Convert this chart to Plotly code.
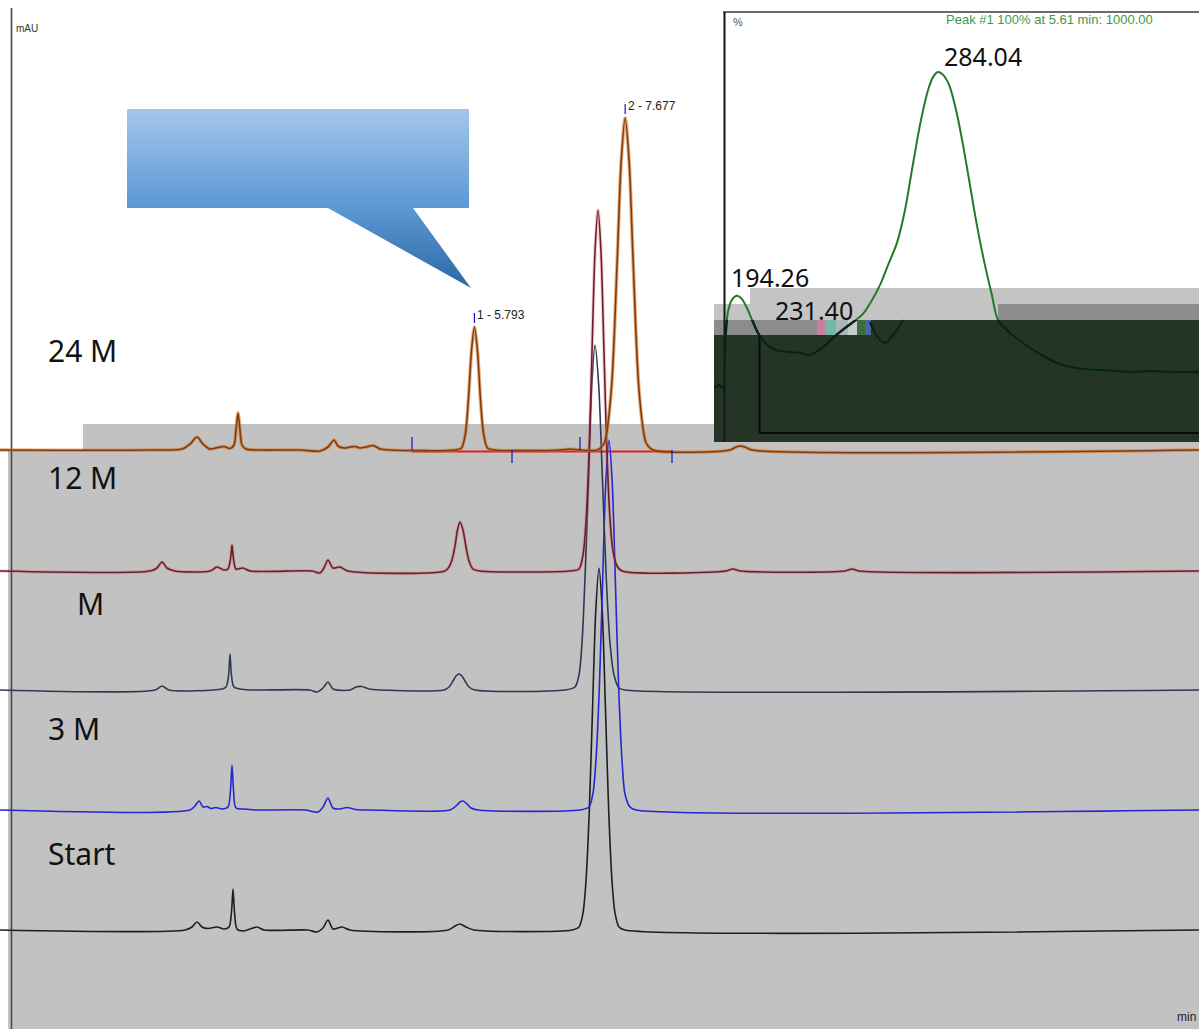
import plotly.graph_objects as go

W, H = 1199, 1029

# ---------------- chromatogram data ----------------
# time (min) and signal above each trace's own baseline (mAU); traces are stacked by OFFSETS
SAMPLE_NAMES = ["Start", "3 M", "M", "12 M", "24 M"]
OFFSETS = [99, 219, 339, 458, 579]

T_START = [-0.14, 2.175, 2.2625, 2.325, 2.3875, 2.4625, 2.575, 2.6625, 2.725, 2.7563, 2.775, 2.7938,
           2.825, 2.90, 2.9875, 3.075, 3.1625, 3.7125, 3.825, 3.90, 3.9625, 4.025, 4.1375, 4.2375,
           5.4625, 5.55, 5.6125, 5.6875, 5.7875, 7.0125, 7.10, 7.15, 7.1875, 7.2281, 7.2688, 7.3094,
           7.35, 7.3906, 7.4313, 7.4719, 7.5125, 7.55, 7.60, 7.675, 14.85]
H_START = [0, 0, 3, 8, 3, 1.5, 3, 1, 3, 18, 41, 18, 1, -1, 1, 3, 0, 0, -2, 2, 10, 1, 3, 0,
           0, 4, 6, 3, 0, 0, 3, 17, 49, 118, 220, 319, 362, 319, 220, 118, 49, 17, 3, 0, 0]

T_3M = [-0.14, 2.2375, 2.30, 2.35, 2.40, 2.45, 2.50, 2.5625, 2.6375, 2.7125, 2.7438, 2.7625, 2.7813,
        2.8125, 2.925, 3.0625, 3.675, 3.8375, 3.90, 3.9625, 4.025, 4.1125, 4.20, 4.3125, 4.4875,
        5.4875, 5.5625, 5.6125, 5.65, 5.70, 5.75, 5.8375, 7.1125, 7.225, 7.275, 7.3125, 7.3531,
        7.3938, 7.4344, 7.475, 7.5156, 7.5563, 7.5969, 7.6375, 7.675, 7.7375, 7.8125, 14.85]
H_3M = [0, 0, 4, 9, 3, 3.5, 1.5, 2.5, 1, 3, 20, 45, 20, 2, 1, 0, 0, -2, 3, 12, 2, 1, 2.5, 0.5, 0,
        0, 4, 8, 9, 6, 2, 0, 0, 3, 17, 50, 120, 224, 327, 370, 327, 224, 120, 50, 16, 3, 0, 0]

T_M = [-0.14, 1.80, 1.8875, 1.975, 2.6375, 2.6875, 2.7188, 2.7375, 2.7563, 2.7875, 2.8625, 2.9875,
       3.7375, 3.825, 3.90, 3.9625, 4.025, 4.2375, 4.3125, 4.3875, 4.475, 4.6125, 5.4125, 5.475,
       5.525, 5.5625, 5.60, 5.6375, 5.675, 5.725, 5.80, 6.925, 7.05, 7.10, 7.1375, 7.175, 7.2188,
       7.2594, 7.30, 7.3469, 7.3938, 7.4406, 7.4875, 7.5375, 7.60, 7.675, 14.85]
H_M = [0, 0, 4, 0, 1, 3, 14, 36, 14, 3, 1, 0, 0, -2, 2, 8, 1, 0, 3, 3.5, 1, 0, 0, 3, 9, 14, 16,
       14, 9, 3, 0, 0, 3, 15, 47, 112, 209, 304, 345, 304, 209, 112, 47, 15, 2, 0, 0]

T_12M = [-0.14, 1.7375, 1.825, 1.8875, 1.95, 2.05, 2.4875, 2.575, 2.6625, 2.7125, 2.7438, 2.7625,
         2.7813, 2.8125, 2.90, 2.9875, 3.7625, 3.8625, 3.9125, 3.9625, 4.025, 4.1125, 4.2125, 5.425,
         5.475, 5.5125, 5.55, 5.5813, 5.6125, 5.65, 5.6875, 5.725, 5.775, 5.8625, 6.9875, 7.10, 7.15,
         7.1875, 7.225, 7.2625, 7.30, 7.3375, 7.375, 7.4125, 7.45, 7.4875, 7.525, 7.575, 7.6375,
         8.9375, 9.025, 9.1125, 10.425, 10.5125, 10.60, 14.85]
H_12M = [0, 0, 3, 9, 3, 0, 0, 4, 1, 2, 12, 26, 12, 2, 3, 0, 0, -2, 3, 11, 3, 4, 0, 0, 4, 11, 25,
         41, 49, 41, 24, 10, 2, 0, 0, 2, 16, 49, 117, 219, 319, 361, 319, 219, 117, 52, 20, 5, 0,
         0, 2, 0, 0, 2, 0, 0]

T_24M = [-0.14, 1.74, 2.1375, 2.2375, 2.325, 2.40, 2.4875, 2.5875, 2.6625, 2.7375, 2.7875, 2.8125,
         2.8375, 2.8625, 2.8875, 2.9375, 3.1125, 3.6125, 3.8625, 3.9625, 4.0375, 4.0875, 4.1625,
         4.2375, 4.30, 4.3625, 4.4375, 4.525, 4.6125, 4.7375, 5.55, 5.631, 5.681, 5.718, 5.756,
         5.793, 5.831, 5.868, 5.906, 5.956, 6.05, 6.8625, 6.9875, 7.1125, 7.327, 7.415, 7.502,
         7.577, 7.627, 7.677, 7.727, 7.777, 7.852, 7.940, 8.027, 8.9875, 9.0625, 9.1125, 9.175,
         9.2625, 14.85]
H_24M = [0, 0, 1, 6, 13, 6, 1, 2.5, 3.5, 1.5, 5, 20, 37, 20, 5, 1, 0, 0, -1, 3, 10, 4, 2, 3, 3.5,
         2, 3, 4.5, 1, 0, 0, 2, 17, 51, 99, 123, 99, 51, 17, 2, 0, 0, 1, 0, 0, 7, 58, 188, 288, 332,
         288, 188, 58, 7, 0, 0, 3, 4, 3, 0, 0]

TIMES = [T_START, T_3M, T_M, T_12M, T_24M]
SIGNALS = [H_START, H_3M, H_M, H_12M, H_24M]

# integrated peaks of the 24 M run
PEAK_LABELS = ["1 - 5.793", "2 - 7.677"]
PEAK_TIMES = [5.793, 7.677]
PEAK_HEIGHTS = [123, 332]
INTEG_TIMES = [5.0125, 6.2625, 7.1125, 8.2625]
INTEG_SIDE = [1, -1, 1, -1]

# ---------------- UV spectrum of peak #1 (inset) ----------------
SPEC_NM = [184.0, 186.2, 188.0, 188.9, 190.2, 192.0, 194.26, 196.5, 198.7, 201.0, 203.6, 206.8,
           211.2, 217.9, 222.4, 226.9, 232.2, 237.1, 242.5, 247.4, 250.5, 254.6, 258.1, 261.7,
           265.7, 269.3, 272.4, 276.0, 279.6, 281.8, 284.04, 286.3, 289.0, 292.1, 295.2, 298.3,
           301.4, 305.0, 308.1, 310.8, 316.2, 321.5, 326.4, 331.8, 336.3, 341.6, 349.7, 356.4,
           369.8, 378.7, 387.6, 400.6]
SPEC_PCT = [14.6, 15.4, 14.6, 26.2, 35.1, 38.4, 39.5, 38.6, 36.2, 33.0, 29.5, 26.8, 24.9, 24.3,
            24.1, 23.5, 25.4, 28.1, 30.8, 33.0, 34.6, 38.4, 42.4, 47.8, 53.8, 62.7, 73.5, 85.7,
            95.1, 98.6, 100.0, 99.2, 96.5, 89.7, 80.3, 69.5, 58.6, 47.8, 39.7, 33.0, 29.5, 27.0,
            24.9, 23.0, 21.6, 20.5, 19.7, 19.5, 18.9, 19.2, 18.9, 18.9]
SPEC2_NM = [253.7, 256.8, 260.4, 264.8, 268.4]
SPEC2_PCT = [32.4, 28.6, 26.8, 29.5, 33.0]
SPEC_LABELS = ["194.26", "231.40", "284.04"]

TRACE_COLORS = ["#1f1f1f", "#2626d4", "#2d3a52", "#6d1e2b", "#7e3c0e"]
GLOW_COLORS = [None, None, None, "rgba(220,95,105,0.3)", "rgba(214,122,45,0.6)"]


def px(x):
    return x / W


def py(y):
    return 1 - y / H


def rect(x0, y0, x1, y1, color):
    return dict(type="rect", xref="paper", yref="paper", x0=px(x0), x1=px(x1),
                y0=py(y1), y1=py(y0), fillcolor=color, line=dict(width=0), layer="below")


def seg(x0, y0, x1, y1, color, width):
    return dict(type="line", xref="paper", yref="paper", x0=px(x0), x1=px(x1),
                y0=py(y0), y1=py(y1), line=dict(color=color, width=width), layer="below")


fig = go.Figure()

# callout balloon (decoration, pixel axis)
fig.add_trace(go.Scatter(
    x=[127, 469, 469, 413, 471, 328, 127, 127],
    y=[920, 920, 821, 821, 741, 821, 821, 920],
    mode="lines", fill="toself", line=dict(width=0, color="rgba(0,0,0,0)"),
    fillgradient=dict(type="vertical", start=741, stop=920,
                      colorscale=[[0, "#2c69a4"], [0.45, "#5b98d4"], [1, "#a3c7ea"]]),
    xaxis="x4", yaxis="y4", hoverinfo="skip"))

# spectrum (green) and its darkened part inside the dark box
fig.add_trace(go.Scatter(x=SPEC_NM, y=SPEC_PCT, mode="lines", line=dict(color="#237a25", width=2, shape="spline", smoothing=0.8),
                         xaxis="x2", yaxis="y2", hoverinfo="skip"))
fig.add_trace(go.Scatter(x=SPEC2_NM, y=SPEC2_PCT, mode="lines", line=dict(color="#237a25", width=2, shape="spline"),
                         xaxis="x2", yaxis="y2", hoverinfo="skip"))
fig.add_trace(go.Scatter(x=SPEC_NM, y=SPEC_PCT, mode="lines", line=dict(color="#0c2210", width=2.4, shape="spline", smoothing=0.8),
                         xaxis="x3", yaxis="y3", hoverinfo="skip"))
fig.add_trace(go.Scatter(x=SPEC2_NM, y=SPEC2_PCT, mode="lines", line=dict(color="#0c2210", width=2.4, shape="spline"),
                         xaxis="x3", yaxis="y3", hoverinfo="skip"))

# red integration baseline under 24 M trace
fig.add_trace(go.Scatter(x=[INTEG_TIMES[0], INTEG_TIMES[-1]], y=[OFFSETS[4] - 1.5, OFFSETS[4] - 1.5],
                         mode="lines", line=dict(color="#e21d1d", width=2.2), hoverinfo="skip"))

# stacked chromatograms
for i in range(len(SAMPLE_NAMES)):
    ys = [v + OFFSETS[i] for v in SIGNALS[i]]
    if GLOW_COLORS[i]:
        fig.add_trace(go.Scatter(x=TIMES[i], y=ys, mode="lines",
                                 line=dict(color=GLOW_COLORS[i], width=3.6, shape="spline", smoothing=0.8),
                                 hoverinfo="skip"))
    fig.add_trace(go.Scatter(x=TIMES[i], y=ys, mode="lines", name=SAMPLE_NAMES[i],
                             line=dict(color=TRACE_COLORS[i], width=1.6, shape="spline", smoothing=0.8),
                             hoverinfo="skip"))

# integration tick marks
tx, ty = [], []
for t, s in zip(INTEG_TIMES, INTEG_SIDE):
    tx += [t, t, None]
    ty += [OFFSETS[4], OFFSETS[4] + 13 * s, None]
for t, h in zip(PEAK_TIMES, PEAK_HEIGHTS):
    tx += [t, t, None]
    ty += [OFFSETS[4] + h + 4, OFFSETS[4] + h + 14, None]
fig.add_trace(go.Scatter(x=tx, y=ty, mode="lines", line=dict(color="#1414c8", width=1.2), hoverinfo="skip"))

shapes = [
    rect(8, 450, W, H, "#c2c2c2"),
    rect(83, 424, W, 450, "#c2c2c2"),
    rect(750, 288, W, 304, "#c4c4c4"),
    rect(714, 304, 998, 320, "#c4c4c4"),
    rect(998, 304, W, 320, "#8c8c8c"),
    rect(714, 320, W, 442, "#243528"),
    rect(714, 320, 817, 335, "#8c8c8c"),
    rect(817, 320, 825, 335, "#c97fa2"),
    rect(825, 320, 836, 335, "#72b9a3"),
    rect(836, 320, 848, 335, "#aeb4bc"),
    rect(848, 320, 857, 335, "#c4ccd0"),
    rect(857, 320, 865, 335, "#3b6e3e"),
    rect(865, 320, 871, 335, "#4a64a6"),
    seg(11.5, 8, 11.5, H, "#4a4a4a", 1.6),
    seg(723, 12, W, 12, "#3a3a3a", 1.5),
    seg(724.5, 12, 724.5, 442, "#151515", 2),
    seg(759.5, 335, 759.5, 433, "#0a0a0a", 2),
    seg(759.5, 433, W, 433, "#0a0a0a", 2),
]

ann = []


def text(x, y, s, size, color="#111111", family="Noto Sans", xanchor="left"):
    ann.append(dict(x=px(x), y=py(y), xref="paper", yref="paper", text=s, showarrow=False,
                    xanchor=xanchor, yanchor="middle", font=dict(size=size, color=color, family=family)))


# sample labels
for name, (lx, ly) in zip(SAMPLE_NAMES, [(46, 853), (46, 728), (75, 603), (46, 477), (46, 351)]):
    text(lx, ly, name, 30)

text(14, 28, "mAU", 10, "#333333", "Liberation Sans")
text(1198, 1017, "min", 12, "#222222", "Liberation Sans", xanchor="right")
text(731, 22, "%", 11, "#555555", "Liberation Sans")
text(944, 20, "Peak #1 100% at 5.61 min: 1000.00", 13, "#3c9a46", "Liberation Sans")
for s, (lx, ly) in zip(SPEC_LABELS, [(729, 277), (773, 310), (942, 56)]):
    text(lx, ly, s, 25, "#111111")

for lab, t, h in zip(PEAK_LABELS, PEAK_TIMES, PEAK_HEIGHTS):
    ann.append(dict(x=t, y=OFFSETS[4] + h + 12, xref="x", yref="y", text=lab, showarrow=False,
                    xanchor="left", yanchor="middle", xshift=1,
                    font=dict(size=12, color="#222222", family="Liberation Sans Narrow, Arial Narrow, Liberation Sans")))

ax_hidden = dict(visible=False, showgrid=False, zeroline=False, fixedrange=True)
fig.update_layout(
    width=W, height=H, autosize=False,
    margin=dict(l=0, r=0, t=0, b=0, pad=0),
    paper_bgcolor="white", plot_bgcolor="rgba(0,0,0,0)",
    showlegend=False, hovermode=False,
    xaxis=dict(domain=[0, 1], range=[-0.1375, 14.85], **ax_hidden),
    yaxis=dict(domain=[0, 1], range=[0, H], **ax_hidden),
    xaxis2=dict(domain=[714 / W, 1], range=[183.99, 400.6], anchor="y2", **ax_hidden),
    yaxis2=dict(domain=[587 / H, 1017 / H], range=[0, 116.2], anchor="x2", **ax_hidden),
    xaxis3=dict(domain=[714 / W, 1], range=[183.99, 400.6], anchor="y3", **ax_hidden),
    yaxis3=dict(domain=[587 / H, 709 / H], range=[0, 32.97], anchor="x3", **ax_hidden),
    xaxis4=dict(domain=[0, 1], range=[0, W], anchor="y4", **ax_hidden),
    yaxis4=dict(domain=[0, 1], range=[0, H], anchor="x4", **ax_hidden),
    shapes=shapes,
    annotations=ann,
)

fig.write_html("out.html", config={"displayModeBar": False},
               post_script="document.body.style.margin='0';document.body.style.overflow='hidden';")
